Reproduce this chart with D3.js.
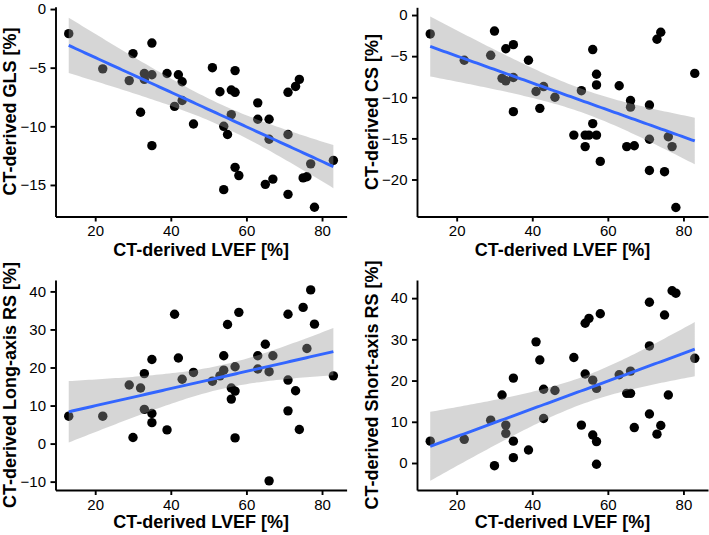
<!DOCTYPE html>
<html><head><meta charset="utf-8">
<script src="https://cdn.jsdelivr.net/npm/d3@7/dist/d3.min.js"></script>
<style>body{margin:0;background:#fff} svg{display:block} text{font-family:"Liberation Sans",Arial,Helvetica,sans-serif}</style>
</head><body><svg id="c" width="709" height="535"></svg>
<script>
// ---- data ----
const xTicks = [20, 40, 60, 80];
const xLabel = "CT-derived LVEF [%]";

const glsX = [13,22,30,29,35,33,35,33,32,35,39,42,43,41,43,46,51,53,56,57,57,56,54,55,54,57,58,63,63,66,66,65,67,71,73,74,71,71,75,76,77,78,83];
const glsY = [-2.1,-5.1,-3.8,-6.1,-2.9,-5.5,-5.6,-6.0,-8.8,-11.65,-5.5,-5.6,-6.2,-8.3,-7.8,-9.8,-5.0,-7.05,-6.9,-7.1,-5.25,-9.0,-10.0,-10.7,-15.4,-13.5,-14.2,-8.0,-9.4,-9.4,-11.1,-14.95,-14.5,-7.1,-6.6,-6.0,-10.7,-15.8,-14.4,-14.3,-13.2,-16.9,-12.9];
const glsTicks = [0, -5, -10, -15];

const csX = [13,22,30,29,33,35,32,33,35,35,39,41,43,42,46,51,53,54,54,55,56,56,57,57,57,58,63,65,67,66,66,71,71,71,73,74,75,76,77,78,83];
const csY = [-2.3,-5.5,-1.95,-4.9,-4.1,-3.6,-7.7,-8.0,-7.6,-11.75,-5.5,-9.3,-8.7,-11.35,-10.0,-14.6,-9.2,-14.6,-16.0,-14.6,-4.2,-13.2,-7.2,-8.5,-14.6,-17.8,-8.6,-16.0,-15.9,-10.4,-11.2,-10.95,-15.1,-18.9,-2.95,-2.1,-19.05,-14.8,-16.0,-23.4,-7.1];
const csTicks = [0, -5, -10, -15, -20];

const lrsX = [13,22,29,30,32,33,33,35,35,35,39,41,42,43,46,51,53,54,54,55,56,56,57,57,57,58,63,63,65,66,67,66,71,71,71,73,74,75,77,76,78,83];
const lrsY = [7.2,7.2,15.4,1.6,14.6,18.4,9.0,22.1,7.9,5.5,3.6,34.0,22.5,16.9,18.7,16.4,17.8,23.1,19.3,31.3,14.6,11.7,20.2,13.8,1.5,34.5,23.1,19.6,26.1,18.9,23.1,-9.8,34.0,16.7,8.6,13.9,3.7,35.8,40.4,25.0,31.4,17.8];
const lrsTicks = [-10, 0, 10, 20, 30, 40];

const srsX = [13,22,29,30,32,33,33,35,35,35,39,41,42,43,43,46,51,53,54,54,55,56,56,57,57,57,58,63,65,66,66,67,71,71,71,73,74,75,76,77,78,83];
const srsY = [5.3,5.75,10.4,-0.65,16.5,9.2,7.2,20.6,5.3,1.3,3.15,29.4,25.0,17.9,10.8,17.6,25.6,9.2,21.6,33.9,35.1,20.1,6.8,5.2,-0.3,18.1,36.2,21.4,16.9,22.3,16.9,8.6,39.0,28.4,11.9,7.0,9.1,35.9,16.5,41.8,41.2,25.4];
const srsTicks = [0, 10, 20, 30, 40];

// ---- layout ----
const panels = [
  {x: glsX, y: glsY, yTicks: glsTicks, title: "CT-derived GLS [%]", yDom: [-17.69, 0.2], L: 55.5, R: 346.6, T: 6.7, B: 216.5, titleX: 16, xTitleY: 256},
  {x: csX, y: csY, yTicks: csTicks, title: "CT-derived CS [%]", yDom: [-24.5, 0.94], L: 417, R: 708, T: 7.3, B: 216.5, titleX: 378.3, xTitleY: 256},
  {x: lrsX, y: lrsY, yTicks: lrsTicks, title: "CT-derived Long-axis RS [%]", yDom: [-12.2, 43.0], L: 55.5, R: 346.6, T: 280, B: 490, titleX: 16, xTitleY: 528},
  {x: srsX, y: srsY, yTicks: srsTicks, title: "CT-derived Short-axis RS [%]", yDom: [-6.55, 44.4], L: 417, R: 708, T: 280, B: 490, titleX: 378.3, xTitleY: 528}
];
const xDom = [9.5, 86.5];
const tCrit = 2.02;

const svg = d3.select("#c");

panels.forEach(p => {
  const g = svg.append("g");
  const xs = d3.scaleLinear().domain(xDom).range([p.L, p.R]);
  const ys = d3.scaleLinear().domain(p.yDom).range([p.B, p.T]);

  // points
  g.append("g").selectAll("circle").data(p.x.map((v, i) => [v, p.y[i]])).join("circle")
    .attr("cx", d => xs(d[0])).attr("cy", d => ys(d[1])).attr("r", 4.7).attr("fill", "#000");

  // linear fit + 95% CI
  const n = p.x.length, mx = d3.mean(p.x), my = d3.mean(p.y);
  let sxx = 0, sxy = 0;
  p.x.forEach((v, i) => { sxx += (v - mx) ** 2; sxy += (v - mx) * (p.y[i] - my); });
  const b = sxy / sxx, a = my - b * mx;
  let ss = 0; p.x.forEach((v, i) => { ss += (p.y[i] - a - b * v) ** 2; });
  const s = Math.sqrt(ss / (n - 2));
  const [x0, x1] = d3.extent(p.x);
  const grid = d3.range(80).map(i => x0 + (x1 - x0) * i / 79);
  const fit = grid.map(x => {
    const yh = a + b * x, se = s * Math.sqrt(1 / n + (x - mx) ** 2 / sxx);
    return {x, y: yh, lo: yh - tCrit * se, hi: yh + tCrit * se};
  });
  g.append("path").datum(fit).attr("fill", "#999999").attr("fill-opacity", 0.4)
    .attr("d", d3.area().x(d => xs(d.x)).y0(d => ys(d.lo)).y1(d => ys(d.hi)));
  g.append("path").datum(fit).attr("fill", "none").attr("stroke", "#3366FF").attr("stroke-width", 2.9)
    .attr("d", d3.line().x(d => xs(d.x)).y(d => ys(d.y)));

  // axes
  const ax = g.append("g").attr("transform", `translate(0,${p.B})`)
    .call(d3.axisBottom(xs).tickValues(xTicks).tickSize(5).tickSizeOuter(0).tickPadding(4));
  const ay = g.append("g").attr("transform", `translate(${p.L},0)`)
    .call(d3.axisLeft(ys).tickValues(p.yTicks).tickSize(5).tickSizeOuter(0).tickPadding(4.5).tickFormat(d3.format("d")));
  [ax, ay].forEach(a => {
    a.select(".domain").attr("stroke", "#000").attr("stroke-width", 1.9);
    a.selectAll(".tick line").attr("stroke", "#000").attr("stroke-width", 1.9);
    a.selectAll(".tick text").attr("fill", "#000").style("font-size", "15px");
  });

  // titles
  g.append("text").attr("x", (p.L + p.R) / 2).attr("y", p.xTitleY).attr("text-anchor", "middle")
    .style("font-size", "18px").style("font-weight", "bold").text(xLabel);
  g.append("text").attr("transform", `translate(${p.titleX},${(p.T + p.B) / 2}) rotate(-90)`)
    .attr("text-anchor", "middle").style("font-size", "18px").style("font-weight", "bold").text(p.title);
});
</script></body></html>
